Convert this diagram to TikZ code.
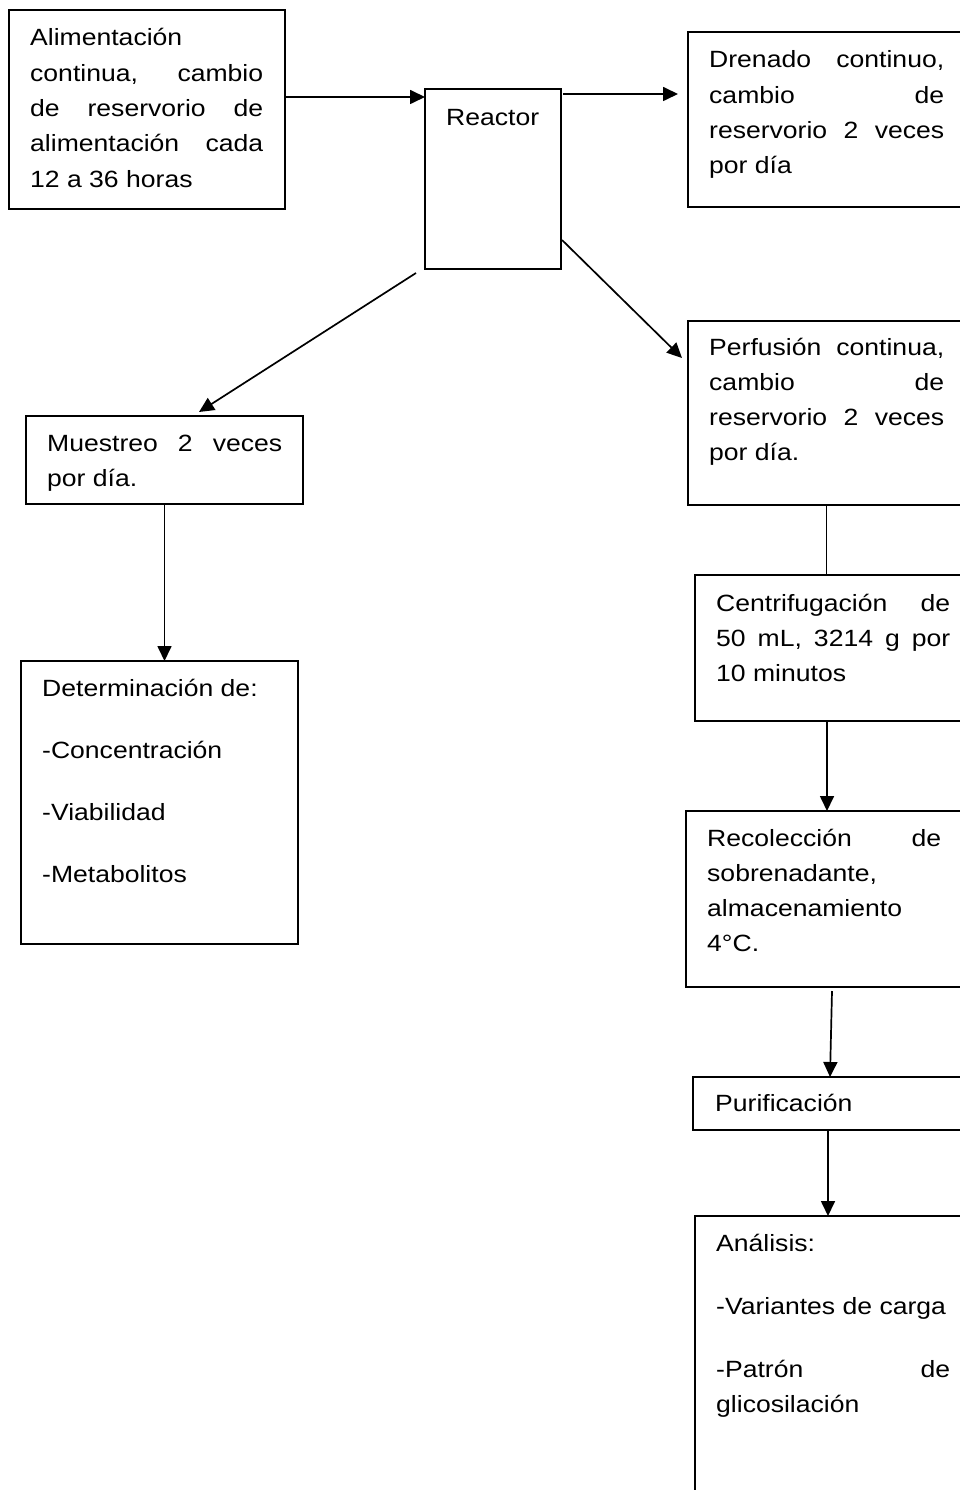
\documentclass[tikz,border=0pt]{standalone}
\usepackage{fontspec}
\setmainfont{Liberation Sans}[FakeStretch=1.13]
\usetikzlibrary{arrows.meta}
\newcommand{\jl}[1]{\makebox[\linewidth][s]{#1}}
\begin{document}
\begin{tikzpicture}[x=1pt,y=-1pt,
  font=\fontsize{23.5}{35.3}\selectfont,
  box/.style={draw, line width=2.1pt, inner sep=0pt, outer sep=0pt, anchor=north west},
  txt/.style={anchor=base west, inner sep=0pt},
  arr/.style={line width=1.7pt, -{Triangle[length=15pt,width=14pt]}},
  ln/.style={line width=1.7pt}]
\useasboundingbox (0,0) rectangle (960,1490);
\clip (0,0) rectangle (960,1490);
\fill[white] (0,0) rectangle (960,1490);

% boxes
\node[box, minimum width=276pt, minimum height=199pt] (alim) at (9,10) {};
\node[box, minimum width=136pt, minimum height=180pt] (reactor) at (425,89) {};
\node[box, minimum width=290pt, minimum height=175pt] (dren) at (688,32) {};
\node[box, minimum width=290pt, minimum height=184pt] (perf) at (688,321) {};
\node[box, minimum width=277pt, minimum height=88pt] (muest) at (26,416) {};
\node[box, minimum width=277pt, minimum height=283pt] (determ) at (21,661) {};
\node[box, minimum width=283pt, minimum height=146pt] (centri) at (695,575) {};
\node[box, minimum width=292pt, minimum height=176pt] (recol) at (686,811) {};
\node[box, minimum width=285pt, minimum height=53pt] (purif) at (693,1077) {};
\node[box, minimum width=283pt, minimum height=300pt] (anal) at (695,1216) {};

% texts
\node[txt] (alimt) at (30,46) {\parbox[t]{233pt}{Alimentación\\
\jl{continua, cambio}\\
\jl{de reservorio de}\\
\jl{alimentación cada}\\
12 a 36 horas}};
\node[txt] (reactort) at (446,126) {Reactor};
\node[txt] (drent) at (709,68) {\parbox[t]{235pt}{\jl{Drenado continuo,}\\
\jl{cambio de}\\
\jl{reservorio 2 veces}\\
por día}};
\node[txt] (perft) at (709,355) {\parbox[t]{235pt}{\jl{Perfusión continua,}\\
\jl{cambio de}\\
\jl{reservorio 2 veces}\\
por día.}};
\node[txt] (muestt) at (47,451) {\parbox[t]{235pt}{\jl{Muestreo 2 veces}\\
por día.}};
\node[txt] (determt) at (42,696) {\parbox[t]{235pt}{Determinación de:\\[27pt]
-Concentración\\[27pt]
-Viabilidad\\[27pt]
-Metabolitos}};
\node[txt] (centrit) at (716,611) {\parbox[t]{234pt}{\jl{Centrifugación de}\\
\jl{50 mL, 3214 g por}\\
10 minutos}};
\node[txt] (recolt) at (707,846) {\parbox[t]{234pt}{\jl{Recolección de}\\
sobrenadante,\\
almacenamiento\\
4°C.}};
\node[txt] (purift) at (715,1111) {Purificación};
\node[txt] (analt) at (716,1251) {\parbox[t]{234pt}{Análisis:\\[28pt]
-Variantes de carga\\[28pt]
\jl{-Patrón de}\\
glicosilación}};

% connectors
\draw[arr] ([yshift=-87pt]alim.north east) -- ([yshift=-8pt]reactor.north west);
\draw[arr] ([xshift=2pt,yshift=-5pt]reactor.north east) -- ([xshift=-10pt,yshift=-62pt]dren.north west);
\draw[arr] ([xshift=1pt,yshift=-151pt]reactor.north east) -- ([xshift=-6pt,yshift=-37pt]perf.north west);
\draw[arr] ([xshift=-9pt,yshift=-4pt]reactor.south west) -- ([xshift=173pt,yshift=4pt]muest.north west);
\draw[arr] (muest.south) -- (muest.south |- determ.north);
\draw[ln] ([xshift=138.5pt]perf.south west) -- ([xshift=131.5pt]centri.north west);
\draw[arr] ([xshift=132pt]centri.south west) -- ([xshift=141pt]recol.north west);
\draw[arr] ([xshift=146pt,yshift=-4pt]recol.south west) -- ([xshift=137pt]purif.north west);
\draw[arr] ([xshift=135pt]purif.south west) -- ([xshift=133pt]anal.north west);
\end{tikzpicture}
\end{document}
